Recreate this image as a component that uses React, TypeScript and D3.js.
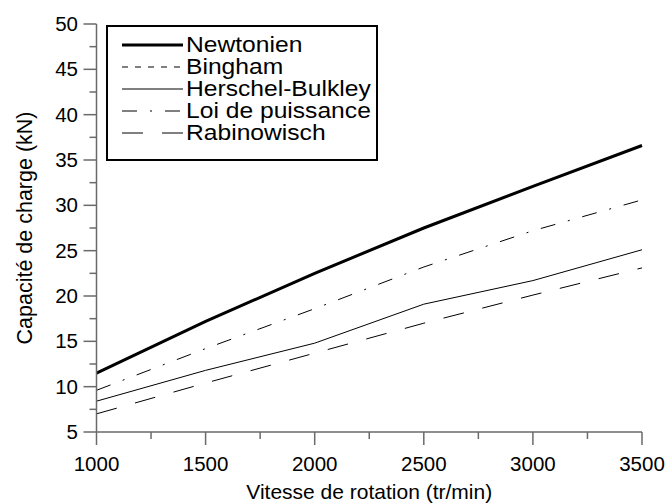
import React from "react";
import * as d3 from "d3";

const speeds = [1000, 1500, 2000, 2500, 3000, 3500];
const newtonien = [11.5, 17.2, 22.5, 27.5, 32.1, 36.6];
const bingham: number[] = [];
const herschelBulkley = [8.4, 11.8, 14.8, 19.1, 21.7, 25.1];
const loiDePuissance = [9.6, 14.2, 18.6, 23.2, 27.2, 30.6];
const rabinowisch = [7.0, 10.4, 13.7, 17.0, 20.1, 23.1];

const xMajorTicks = [1000, 1500, 2000, 2500, 3000, 3500];
const xMinorTicks = [1250, 1750, 2250, 2750, 3250];
const yMajorTicks = [5, 10, 15, 20, 25, 30, 35, 40, 45, 50];
const yMinorTicks = [7.5, 12.5, 17.5, 22.5, 27.5, 32.5, 37.5, 42.5, 47.5];

const seriesNames = ["Newtonien", "Bingham", "Herschel-Bulkley", "Loi de puissance", "Rabinowisch"];
const seriesValues = [newtonien, bingham, herschelBulkley, loiDePuissance, rabinowisch];
const seriesWidths = [3, 1, 1, 1, 1];
const seriesDash = ["", "6 7", "", "15 13 2 13", "21 19"];

const xTitle = "Vitesse de rotation (tr/min)";
const yTitle = "Capacité de charge (kN)";

const FONT = "'Liberation Sans', Arial, Helvetica, sans-serif";
const AXIS = "#6a6a6a";

export default function App() {
  const x = d3.scaleLinear().domain([1000, 3500]).range([96.5, 642]);
  const y = d3.scaleLinear().domain([5, 50]).range([432, 24]);
  const line = d3
    .line<number>()
    .x((_, i) => x(speeds[i]))
    .y((v) => y(v));

  const legendX = 107;
  const legendY = 26;
  const legendW = 270;
  const legendH = 134;
  const rowY = (i: number) => 45 + i * 22;

  return (
    <div style={{ position: "absolute", left: 0, top: 0 }}>
      <svg width={666} height={504} style={{ display: "block", background: "#fff" }} fontFamily={FONT}>
        {/* series */}
        {seriesValues.map((vals, i) =>
          vals.length ? (
            <path
              key={seriesNames[i]}
              d={line(vals) || ""}
              fill="none"
              stroke="#000"
              strokeWidth={seriesWidths[i]}
              strokeDasharray={seriesDash[i] || undefined}
            />
          ) : null
        )}

        {/* axes */}
        <line x1={x(1000)} x2={x(3500)} y1={y(5)} y2={y(5)} stroke={AXIS} strokeWidth={1.5} />
        <line x1={x(1000)} x2={x(1000)} y1={y(5)} y2={y(50)} stroke={AXIS} strokeWidth={1.5} />
        {xMajorTicks.map((t) => (
          <g key={"xM" + t}>
            <line x1={x(t)} x2={x(t)} y1={y(5)} y2={y(5) + 13} stroke={AXIS} strokeWidth={1.5} />
            <text x={x(t)} y={471} textAnchor="middle" fontSize={20.5} fill="#000">
              {t}
            </text>
          </g>
        ))}
        {xMinorTicks.map((t) => (
          <line key={"xm" + t} x1={x(t)} x2={x(t)} y1={y(5)} y2={y(5) + 7} stroke={AXIS} strokeWidth={1.5} />
        ))}
        {yMajorTicks.map((t) => (
          <g key={"yM" + t}>
            <line x1={x(1000) - 13} x2={x(1000)} y1={y(t)} y2={y(t)} stroke={AXIS} strokeWidth={1.5} />
            <text x={78} y={y(t) + 7} textAnchor="end" fontSize={20.5} fill="#000">
              {t}
            </text>
          </g>
        ))}
        {yMinorTicks.map((t) => (
          <line key={"ym" + t} x1={x(1000) - 7} x2={x(1000)} y1={y(t)} y2={y(t)} stroke={AXIS} strokeWidth={1.5} />
        ))}

        {/* titles */}
        <text x={(x(1000) + x(3500)) / 2} y={499} textAnchor="middle" fontSize={21} fill="#000">
          {xTitle}
        </text>
        <text
          transform={`translate(32, ${(y(5) + y(50)) / 2}) rotate(-90)`}
          textAnchor="middle"
          fontSize={21.5}
          fill="#000"
        >
          {yTitle}
        </text>

        {/* legend */}
        <rect x={legendX} y={legendY} width={legendW} height={legendH} fill="#fff" stroke="#000" strokeWidth={2} />
        {seriesNames.map((name, i) => (
          <g key={"lg" + name}>
            <line
              x1={122}
              x2={183}
              y1={rowY(i)}
              y2={rowY(i)}
              stroke="#000"
              strokeWidth={seriesWidths[i]}
              strokeDasharray={seriesDash[i] || undefined}
            />
            <text transform={`translate(186, ${rowY(i) + 7}) scale(1.12, 1)`} fontSize={22} fill="#000">
              {name}
            </text>
          </g>
        ))}
      </svg>
    </div>
  );
}
